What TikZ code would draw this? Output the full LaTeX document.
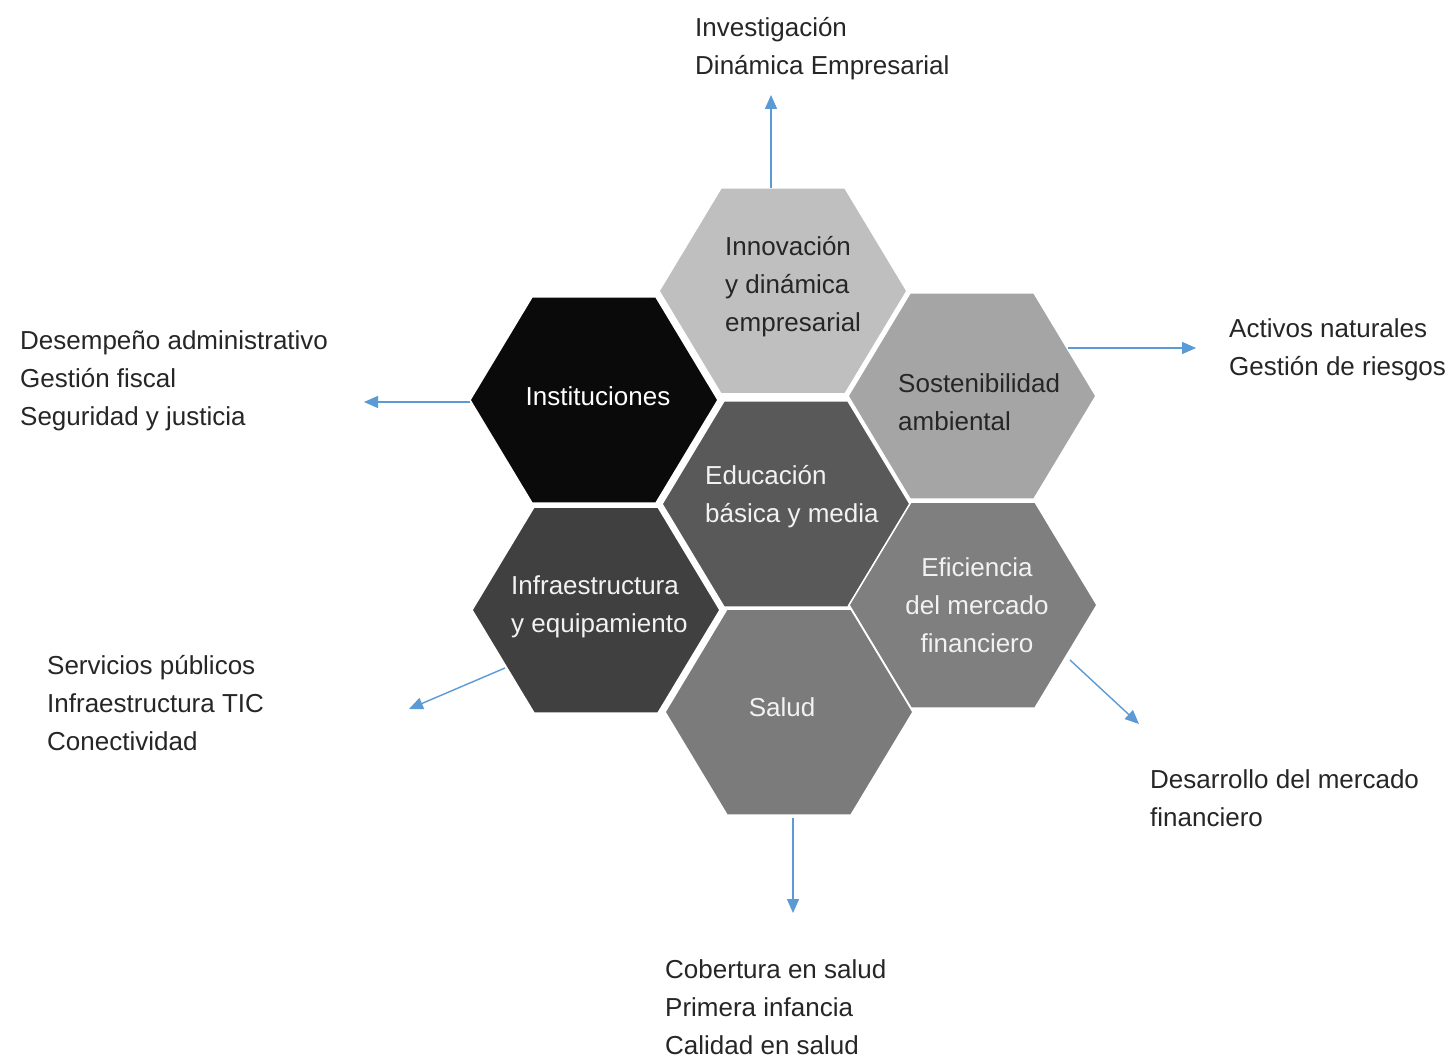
\documentclass[tikz,border=0pt]{standalone}
\usepackage{fontspec}
\setmainfont{Liberation Sans}
\usetikzlibrary{arrows.meta,calc}
\definecolor{arrowblue}{HTML}{5B9BD5}
\definecolor{txtdark}{HTML}{262626}
\definecolor{hexInno}{HTML}{BFBFBF}
\definecolor{hexInst}{HTML}{0A0A0A}
\definecolor{hexSost}{HTML}{A5A5A5}
\definecolor{hexEdu}{HTML}{595959}
\definecolor{hexInfra}{HTML}{404040}
\definecolor{hexEfic}{HTML}{7F7F7F}
\definecolor{hexSalud}{HTML}{7B7B7B}
\begin{document}
\begin{tikzpicture}[x=1pt,y=-1pt,
  lbl/.style={anchor=base west, align=left, inner sep=0pt, font=\fontsize{26}{38}\selectfont, text=txtdark},
  hextxt/.style={inner sep=0pt, font=\fontsize{26}{38}\selectfont},
  hexshape/.style={draw=white, line width=1.5pt},
  conn/.style={draw=arrowblue, line width=1.4pt, -{Triangle[length=14pt,width=12pt]}}
]
\useasboundingbox (0,0) rectangle (1452,1059);
\fill[white] (0,0) rectangle (1452,1059);

\newcommand\hexagonat[2]{\path[hexshape, fill=#2, shift={(#1)}] (-124,0) -- (-62,-103) -- (62,-103) -- (124,0) -- (62,103) -- (-62,103) -- cycle;}

% centers
\coordinate (inno) at (783,291);
\coordinate (inst) at (594,400);
\coordinate (sost) at (972,396);
\coordinate (edu) at (786,504);
\coordinate (infra) at (596,610);
\coordinate (efic) at (973,605);
\coordinate (salud) at (789,712);

\hexagonat{inno}{hexInno}
\hexagonat{inst}{hexInst}
\hexagonat{sost}{hexSost}
\hexagonat{edu}{hexEdu}
\hexagonat{infra}{hexInfra}
\hexagonat{efic}{hexEfic}
\hexagonat{salud}{hexSalud}

% hexagon texts (base anchor = baseline of the last line)
\node[hextxt, anchor=base west, align=left, text=txtdark] (tinno) at (725,332) {Innovación\\y dinámica\\empresarial};
\node[hextxt, anchor=base, text=white] (tinst) at (598,406) {Instituciones};
\node[hextxt, anchor=base west, align=left, text=txtdark] (tsost) at (898,430) {Sostenibilidad\\ambiental};
\node[hextxt, anchor=base west, align=left, text=white!95!black] (tedu) at (705,522) {Educación\\básica y media};
\node[hextxt, anchor=base west, align=left, text=white!95!black] (tinfra) at (511,632) {Infraestructura\\y equipamiento};
\node[hextxt, anchor=base, align=center, text=white!95!black] (tefic) at (977,652) {Eficiencia\\del mercado\\financiero};
\node[hextxt, anchor=base, text=white!95!black] (tsalud) at (782,716) {Salud};

% outer labels
\node[lbl] (linno) at (695,75) {Investigación\\Dinámica Empresarial};
\node[lbl] (linst) at (20,425) {Desempeño administrativo\\Gestión fiscal\\Seguridad y justicia};
\node[lbl] (lsost) at (1229,376) {Activos naturales\\Gestión de riesgos};
\node[lbl] (linfra) at (47,750) {Servicios públicos\\Infraestructura TIC\\Conectividad};
\node[lbl] (lefic) at (1150,826) {Desarrollo del mercado\\financiero};
\node[lbl] (lsalud) at (665,1054) {Cobertura en salud\\Primera infancia\\Calidad en salud};

% connector ends
\coordinate (sinno) at ($(inno)+(-12,-103)$);
\coordinate (einno) at (771,95);
\coordinate (sinst) at ($(inst)+(-124,2)$);
\coordinate (einst) at (364,402);
\coordinate (ssost) at ($(sost)+(96,-48)$);
\coordinate (esost) at (1196,348);
\coordinate (sinfra) at ($(infra)+(-91,58)$);
\coordinate (einfra) at (409,709);
\coordinate (sefic) at ($(efic)+(97,55)$);
\coordinate (eefic) at (1139,724);
\coordinate (ssalud) at ($(salud)+(4,106)$);
\coordinate (esalud) at (793,913);

\draw[conn] (sinno) -- (einno);
\draw[conn] (sinst) -- (einst);
\draw[conn] (ssost) -- (esost);
\draw[conn] (sinfra) -- (einfra);
\draw[conn] (sefic) -- (eefic);
\draw[conn] (ssalud) -- (esalud);
\end{tikzpicture}
\end{document}
